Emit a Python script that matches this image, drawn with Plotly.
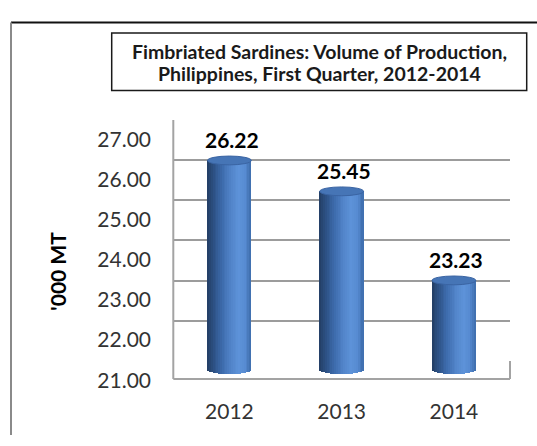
import math
import plotly.graph_objects as go

# Fimbriated sardines, first-quarter production ('000 MT)
YEARS = ["2012", "2013", "2014"]
VOLUMES = [26.22, 25.45, 23.23]
Y_TICKS = [21, 22, 23, 24, 25, 26, 27]
BASE = 21.0
TITLE_LINES = ["Fimbriated Sardines: Volume of Production,",
               "Philippines, First Quarter, 2012-2014"]
Y_TITLE = "'000 MT"

W_PX, H_PX = 537, 446
FONT = "Lato"


def fx(px):
    return px / W_PX


def fy(py):
    return 1 - py / H_PX


def span(bottom_px, top_px):
    return [fy(bottom_px), fy(top_px)]


# plot box (back wall) in pixels
BOX_L, BOX_R = 173.3, 510.0
BOX_T, FLOOR_BACK, FLOOR_FRONT = 112.3, 367.5, 386.7

# pixel scale of the bar plane and of the front (label) plane
BAR_21_PX, BAR_STEP = 377.0, 42.5
BAR_RANGE = [20.7, 27.3]
LAB_21_PX, LAB_27_PX = 388.0, 133.0

positions = list(range(len(YEARS)))
BAR_W = 0.39          # cylinder width in category units
CAP_H = 0.11          # half-height of the elliptical caps (value units)

# left-to-right shading across the cylinder
STOPS = [(0.0, (0x22, 0x3d, 0x63)), (0.15, (0x2d, 0x52, 0x86)),
         (0.35, (0x3e, 0x6c, 0xad)), (0.55, (0x52, 0x85, 0xca)),
         (0.72, (0x5d, 0x93, 0xd9)), (0.86, (0x57, 0x8b, 0xd2)),
         (1.0, (0x3d, 0x6c, 0xab))]


def shade(t):
    for (t0, c0), (t1, c1) in zip(STOPS, STOPS[1:]):
        if t <= t1:
            f = (t - t0) / (t1 - t0)
            r, g, b = (round(a + (bb - a) * f) for a, bb in zip(c0, c1))
            return f"rgb({r},{g},{b})"
    r, g, b = STOPS[-1][1]
    return f"rgb({r},{g},{b})"


fig = go.Figure()

# back wall with gridlines (first subplot, so it sits under the cylinders)
fig.add_trace(go.Scatter(x=[0], y=[BASE], mode="markers", marker=dict(opacity=0),
                         xaxis="x", yaxis="y", hoverinfo="skip", showlegend=False))

# cylinders: thin vertical slices shaded across the width, rounded at the base
N = 24
for k in range(N):
    t = (k + 0.5) / N
    u = 2 * t - 1
    bottoms = [BASE - CAP_H * math.sqrt(max(0.0, 1 - u * u)) for _ in VOLUMES]
    fig.add_trace(go.Bar(
        x=positions, y=[v - b for v, b in zip(VOLUMES, bottoms)], base=bottoms,
        width=BAR_W / N * 1.25, offset=-BAR_W / 2 + k * BAR_W / N,
        marker=dict(color=shade(t), line=dict(width=0)),
        xaxis="x2", yaxis="y2", hoverinfo="skip", showlegend=False))

# front plane carrying the tick labels
fig.add_trace(go.Scatter(x=[0], y=[BASE], mode="markers", marker=dict(opacity=0),
                         xaxis="x3", yaxis="y3", hoverinfo="skip", showlegend=False))

shapes = []
for i, v in zip(positions, VOLUMES):
    shapes.append(dict(type="circle", xref="x2", yref="y2",
                       x0=i - BAR_W / 2, x1=i + BAR_W / 2, y0=v - CAP_H, y1=v + CAP_H,
                       fillcolor="#4675b6", line=dict(color="#3a64a3", width=1),
                       layer="above"))

frame_gray = "#a3a3a3"
shapes += [
    # left wall edge, floor front edge and floor right edge
    dict(type="line", xref="paper", yref="paper", x0=fx(BOX_L), x1=fx(BOX_L),
         y0=fy(BOX_T), y1=fy(FLOOR_FRONT), line=dict(color=frame_gray, width=2)),
    dict(type="line", xref="paper", yref="paper", x0=fx(BOX_L), x1=fx(BOX_R),
         y0=fy(FLOOR_FRONT), y1=fy(FLOOR_FRONT), line=dict(color=frame_gray, width=2)),
    dict(type="line", xref="paper", yref="paper", x0=fx(BOX_R), x1=fx(BOX_R),
         y0=fy(FLOOR_BACK), y1=fy(FLOOR_FRONT), line=dict(color=frame_gray, width=2)),
    # outer chart frame
    dict(type="line", xref="paper", yref="paper", x0=fx(11), x1=1.0,
         y0=fy(9), y1=fy(9), line=dict(color="#111111", width=2)),
    dict(type="line", xref="paper", yref="paper", x0=fx(11), x1=fx(11),
         y0=fy(9), y1=0.0, line=dict(color="#8a8a8a", width=2)),
    # title box
    dict(type="rect", xref="paper", yref="paper", x0=fx(111.7), x1=fx(526.7),
         y0=fy(81), y1=fy(20), line=dict(color="#1a1a1a", width=1.5),
         fillcolor="white"),
]

annotations = []
for i, v in zip(positions, VOLUMES):
    annotations.append(dict(xref="x2", yref="y2", x=i + 0.02, y=v, yshift=21,
                            text=f"{v:.2f}", showarrow=False,
                            font=dict(family=FONT, size=21, color="#000000",
                                      weight="bold")))
for line, ypx in zip(TITLE_LINES, [39.5, 63.5]):
    annotations.append(dict(xref="paper", yref="paper", x=fx(319), y=fy(ypx),
                            text=line, showarrow=False, xanchor="center",
                            yanchor="middle",
                            font=dict(family=FONT, size=19.5, color="#1a1a1a",
                                      weight="bold")))
annotations.append(dict(xref="paper", yref="paper", x=fx(57.5), y=fy(272.5),
                        text=Y_TITLE, textangle=-90, showarrow=False,
                        xanchor="center", yanchor="middle",
                        font=dict(family=FONT, size=21, color="#000000",
                                  weight="bold")))

tick_font = dict(family=FONT, size=21, color="#333333")

fig.update_layout(
    width=W_PX, height=H_PX, margin=dict(l=0, r=0, t=0, b=0),
    paper_bgcolor="white", plot_bgcolor="rgba(0,0,0,0)",
    barmode="overlay", bargap=0, showlegend=False,
    xaxis=dict(domain=[fx(BOX_L), fx(BOX_R)], range=[-0.5, 2.5], visible=False),
    yaxis=dict(domain=span(FLOOR_BACK, BOX_T), range=[Y_TICKS[0], Y_TICKS[-1]],
               tickvals=Y_TICKS, showticklabels=False, showgrid=True,
               gridcolor="#9c9c9c", gridwidth=1.6, zeroline=False, showline=False,
               ticks=""),
    xaxis2=dict(domain=[fx(BOX_L), fx(BOX_R)], range=[-0.5, 2.5], visible=False,
                anchor="y2"),
    yaxis2=dict(domain=span(BAR_21_PX + (BASE - BAR_RANGE[0]) * BAR_STEP,
                            BAR_21_PX - (BAR_RANGE[1] - BASE) * BAR_STEP),
                range=BAR_RANGE, visible=False, anchor="x2"),
    xaxis3=dict(domain=[fx(BOX_L), fx(BOX_R)], range=[-0.5, 2.5],
                tickvals=positions, ticktext=YEARS, showgrid=False, zeroline=False,
                showline=False, ticks="", anchor="free", position=fy(406),
                tickfont=tick_font),
    yaxis3=dict(domain=span(LAB_21_PX, LAB_27_PX), range=[Y_TICKS[0], Y_TICKS[-1]],
                tickvals=Y_TICKS, ticktext=[f"{t:.2f}" for t in Y_TICKS],
                showgrid=False, zeroline=False, showline=False, ticks="",
                anchor="free", position=fx(151), tickfont=tick_font),
    shapes=shapes, annotations=annotations,
)

fig.write_html("out.html")
